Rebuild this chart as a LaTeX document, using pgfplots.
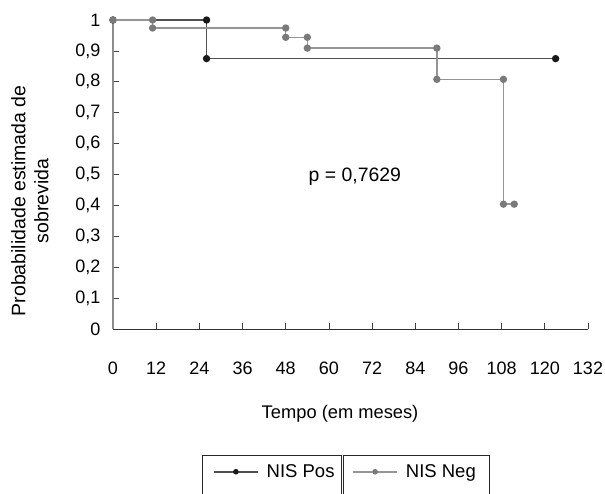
\documentclass[border=0pt]{standalone}
\usepackage{pgfplots}
\pgfplotsset{compat=1.18}
\usepackage{fontspec}
\setmainfont{Liberation Sans}
\definecolor{posline}{HTML}{505050}
\definecolor{posmark}{HTML}{1A1A1A}
\definecolor{negline}{HTML}{959595}
\definecolor{negmark}{HTML}{7A7A7A}
\begin{document}
\begin{tikzpicture}
\useasboundingbox (-113pt,-164pt) rectangle (492pt,329pt);
\clip (-113pt,-164pt) rectangle (492pt,329pt);
\pgfplotsset{
  common/.style={
    scale only axis, width=475pt, height=309pt,
    at={(0,0)}, anchor=south west,
    xmin=0, xmax=132, ymin=0, ymax=1,
    clip=false,
    legend image code/.code={\draw[##1,mark repeat=2,mark phase=2] plot coordinates {(0pt,0pt) (22pt,0pt) (44pt,0pt)};},
    legend image post style={mark size=2pt},
    legend style={draw=none, fill=none, font=\fontsize{18.5}{22}\selectfont,
      inner sep=0pt, anchor=west, /tikz/every odd column/.append style={column sep=6pt}},
  }
}
\begin{axis}[common,
  axis x line*=bottom, axis y line*=left,
  x axis line style={color=black!80, line width=0.8pt},
  y axis line style={color=black!45, line width=1.4pt},
  xtick={0,12,...,132}, ytick={0,0.1,...,1.0},
  yticklabels={0,{0,1},{0,2},{0,3},{0,4},{0,5},{0,6},{0,7},{0,8},{0,9},1},
  tick align=inside, major tick length=6pt,
  tick style={color=black!75, line width=0.7pt},
  tick label style={font=\fontsize{18}{21}\selectfont},
  xticklabel style={yshift=-29pt},
  yticklabel style={xshift=-9pt},
  /pgf/number format/assume math mode=true,
  xlabel={Tempo (em meses)},
  xlabel style={at={(axis description cs:0.478,-0.275)}, anchor=center, font=\fontsize{18.3}{21}\selectfont},
  ylabel={Probabilidade estimada de\\sobrevida},
  ylabel style={at={(axis description cs:-0.175,0.415)}, anchor=center, rotate=0, align=center, font=\fontsize{19.5}{23}\selectfont},
  legend style={at={(0.2105,-0.462)}},
]
\addplot[posline, line width=1.5pt, mark=*, mark size=2.9pt, mark options={fill=posmark, draw=posmark}]
  coordinates {(0,1) (26,1) (26,0.875) (123,0.875)};
\addlegendentry{NIS Pos}
\node[font=\fontsize{19.4}{22}\selectfont] at (axis cs:67.2,0.492) {p = 0,7629};
\end{axis}
\begin{axis}[common, hide axis,
  legend style={at={(0.5036,-0.462)}},
]
\addplot[negline, line width=1.5pt, mark=*, mark size=2.9pt, mark options={fill=negmark, draw=negmark}]
  coordinates {(0,1) (11,1) (11,0.974) (48,0.974) (48,0.944) (54,0.944) (54,0.909) (90,0.909) (90,0.808) (108.5,0.808) (108.5,0.404) (111.5,0.404)};
\addlegendentry{NIS Neg}
\end{axis}
\draw[black!85, line width=0.7pt] (89pt,-170pt) -- (89pt,-126pt) -- (228pt,-126pt) -- (228pt,-170pt);
\draw[black!85, line width=0.7pt] (230pt,-170pt) -- (230pt,-126pt) -- (376pt,-126pt) -- (376pt,-170pt);
\end{tikzpicture}
\end{document}
